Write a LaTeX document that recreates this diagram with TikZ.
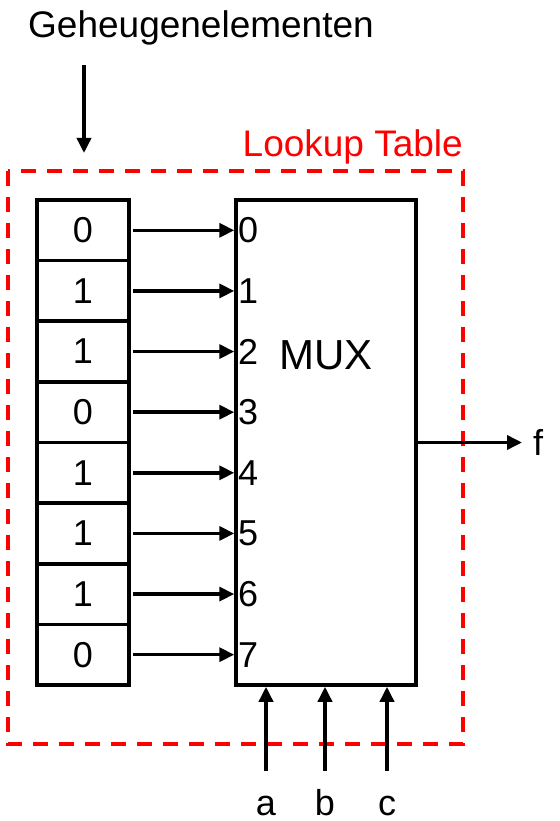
\documentclass[tikz,border=0pt]{standalone}
\usepackage{fontspec}
\setmainfont{Liberation Sans}
\usetikzlibrary{arrows.meta}
\tikzset{
  txt/.style={font=\fontsize{36}{40}\selectfont, inner sep=0pt},
  head/.style={font=\fontsize{37}{41}\selectfont, inner sep=0pt},
  cell/.style={draw, line width=3.5pt, minimum width=92pt, minimum height=60.6pt, inner sep=0pt, font=\fontsize{36}{40}\selectfont},
  wire/.style={line width=3.5pt, -{Triangle[length=15pt,width=14pt]}},
  lut/.style={draw=red, line width=4pt, dash pattern=on 15pt off 11pt},
}
\begin{document}
\begin{tikzpicture}[x=1pt, y=-1pt]
\useasboundingbox (0,0) rectangle (559,821);

% title and its pointer
\node[head, anchor=base] (title) at (201,38) {Geheugenelementen};
\coordinate (ptop) at (84,65);
\coordinate (pend) at (84,153);
\draw[wire] (ptop) -- (pend);

% lookup table frame
\draw[lut] (8,171) rectangle (463,744);
\node[head, text=red, anchor=base east] (luttitle) at (463,157) {Lookup Table};

% multiplexer
\node[draw, line width=3.5pt, minimum width=180pt, minimum height=485pt, inner sep=0pt] (mux) at (326,442.5) {};
\node[inner sep=0pt, font=\fontsize{42}{46}\selectfont] (muxlabel) at (326,355) {MUX};

% memory cells, their bits and the mux inputs
\foreach \i/\b in {0/0,1/1,2/1,3/0,4/1,5/1,6/1,7/0} {
  \node[cell] (c\i) at (83, {200+60.625*(\i+0.5)}) {\b};
  \node[txt, anchor=west] (in\i) at (238, {200+60.625*(\i+0.5)}) {\i};
  \draw[wire] (c\i.east) ++(2,0) -- (mux.west |- c\i.east);
}

% output
\coordinate (fout) at (522,442.5);
\draw[wire] (mux.east) -- (fout);
\node[txt, anchor=west] (f) at (533,442) {f};

% select inputs
\foreach \n/\dx in {a/-60,b/-1,c/61} {
  \coordinate (s\n) at ({326+\dx},771);
  \draw[wire] (s\n) -- (s\n |- mux.south);
  \node[txt, anchor=base] (l\n) at ({326+\dx},815) {\n};
}
\end{tikzpicture}
\end{document}
